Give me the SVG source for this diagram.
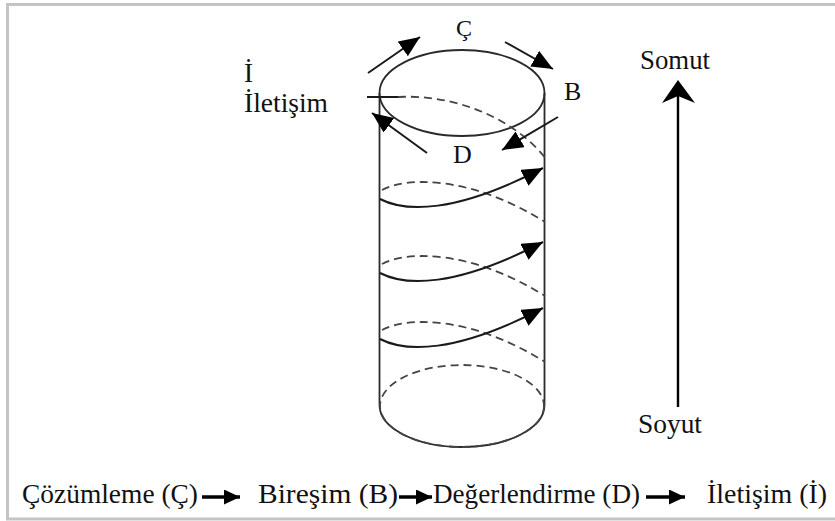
<svg xmlns="http://www.w3.org/2000/svg" width="835" height="521" viewBox="0 0 835 521">
  <style>
    .txt { font-family: "Liberation Serif", "Times New Roman", "DejaVu Serif", serif; fill: #111; }
    .cyl { fill: none; stroke: #2a2a2a; stroke-width: 1.8; }
    .dash { fill: none; stroke: #444; stroke-width: 1.8; stroke-dasharray: 8 5; }
    .spiral { fill: none; stroke: #1a1a1a; stroke-width: 2; }
    .arr { fill: none; stroke: #1a1a1a; stroke-width: 2; }
    .thick { fill: none; stroke: #000; stroke-width: 3.6; }
  </style>
  <defs>
    <marker id="head" markerUnits="userSpaceOnUse" markerWidth="24" markerHeight="20" refX="21" refY="9" orient="auto">
      <path d="M0,0 L21,9 L0,18 Z" fill="#000"/>
    </marker>
    <marker id="headSmall" markerUnits="userSpaceOnUse" markerWidth="18" markerHeight="16" refX="16" refY="7.5" orient="auto">
      <path d="M0,0 L16,7.5 L0,15 Z" fill="#000"/>
    </marker>
  </defs>

  <rect width="835" height="521" fill="#fff"/>
  <!-- frame -->
  <g id="frame" fill="none" stroke="#c4c4c4" stroke-width="3">
    <line x1="6" y1="4.5" x2="835" y2="4.5"/>
    <line x1="7.5" y1="4" x2="7.5" y2="519"/>
    <line x1="6" y1="519" x2="835" y2="519"/>
  </g>

  <!-- cylinder -->
  <g id="cylinder">
    <ellipse class="cyl" cx="462" cy="93" rx="82.5" ry="43"/>
    <line class="cyl" x1="379.5" y1="93" x2="379.5" y2="405"/>
    <line class="cyl" x1="544.5" y1="93" x2="544.5" y2="405"/>
    <path class="cyl" d="M379.5,405 A82.5,42 0 0 0 544.5,405"/>
    <ellipse class="dash" cx="462" cy="406" rx="82" ry="41"/>
  </g>

  <!-- spiral -->
  <g id="spiral">
    <line class="spiral" x1="367" y1="97" x2="398" y2="97"/>
    <path class="dash" d="M398,97 C450,94 512,115 547,160"/>
    <g>
      <path class="dash" d="M382,190 C405,177 470,175 545,222"/>
      <path class="spiral" d="M380,199 C405,212 455,214 543,168" marker-end="url(#head)"/>
    </g>
    <g transform="translate(0,74)">
      <path class="dash" d="M382,190 C405,177 470,175 545,222"/>
      <path class="spiral" d="M380,199 C405,212 455,214 543,168" marker-end="url(#head)"/>
    </g>
    <g transform="translate(0,140)">
      <path class="dash" d="M382,190 C405,177 470,175 545,222"/>
      <path class="spiral" d="M380,199 C405,212 455,214 543,168" marker-end="url(#head)"/>
    </g>
  </g>

  <!-- connectors: cycle arrows -->
  <g id="connectors">
    <line class="arr" x1="368" y1="73" x2="420" y2="37" marker-end="url(#head)"/>
    <line class="arr" x1="505" y1="42" x2="553" y2="69" marker-end="url(#head)"/>
    <line class="arr" x1="558" y1="117" x2="502" y2="150" marker-end="url(#head)"/>
    <line class="arr" x1="427" y1="153" x2="372" y2="113" marker-end="url(#head)"/>
    <!-- vertical axis -->
    <line x1="678" y1="407" x2="678" y2="92" stroke="#000" stroke-width="2.4"/>
    <path d="M678,80 L695,103 L678,96 L662,103 Z" fill="#000"/>
    <!-- bottom sequence arrows -->
    <line class="thick" x1="202" y1="497" x2="240" y2="497" marker-end="url(#headSmall)"/>
    <line class="thick" x1="399" y1="497" x2="432" y2="497" marker-end="url(#headSmall)"/>
    <line class="thick" x1="646" y1="497" x2="685" y2="497" marker-end="url(#headSmall)"/>
  </g>

  <!-- labels -->
  <g id="label-C"><text class="txt" x="464" y="36" font-size="24" text-anchor="middle">Ç</text></g>
  <g id="label-B"><text class="txt" x="564" y="100" font-size="26">B</text></g>
  <g id="label-D"><text class="txt" x="453" y="163" font-size="26">D</text></g>
  <g id="label-I"><text class="txt" x="244" y="82" font-size="27">İ</text>
    <text class="txt" x="244" y="112" font-size="27" textLength="84" lengthAdjust="spacingAndGlyphs">İletişim</text></g>
  <g id="label-somut"><text class="txt" x="640" y="69" font-size="27" textLength="70" lengthAdjust="spacingAndGlyphs">Somut</text></g>
  <g id="label-soyut"><text class="txt" x="638" y="433" font-size="27" textLength="64" lengthAdjust="spacingAndGlyphs">Soyut</text></g>

  <g id="seq1"><text class="txt" x="22" y="503" font-size="27" textLength="176" lengthAdjust="spacingAndGlyphs">Çözümleme (Ç)</text></g>
  <g id="seq2"><text class="txt" x="258" y="503" font-size="27" textLength="140" lengthAdjust="spacingAndGlyphs">Bireşim (B)</text></g>
  <g id="seq3"><text class="txt" x="433" y="503" font-size="27" textLength="207" lengthAdjust="spacingAndGlyphs">Değerlendirme (D)</text></g>
  <g id="seq4"><text class="txt" x="707" y="503" font-size="27" textLength="120" lengthAdjust="spacingAndGlyphs">İletişim (İ)</text></g>
</svg>
